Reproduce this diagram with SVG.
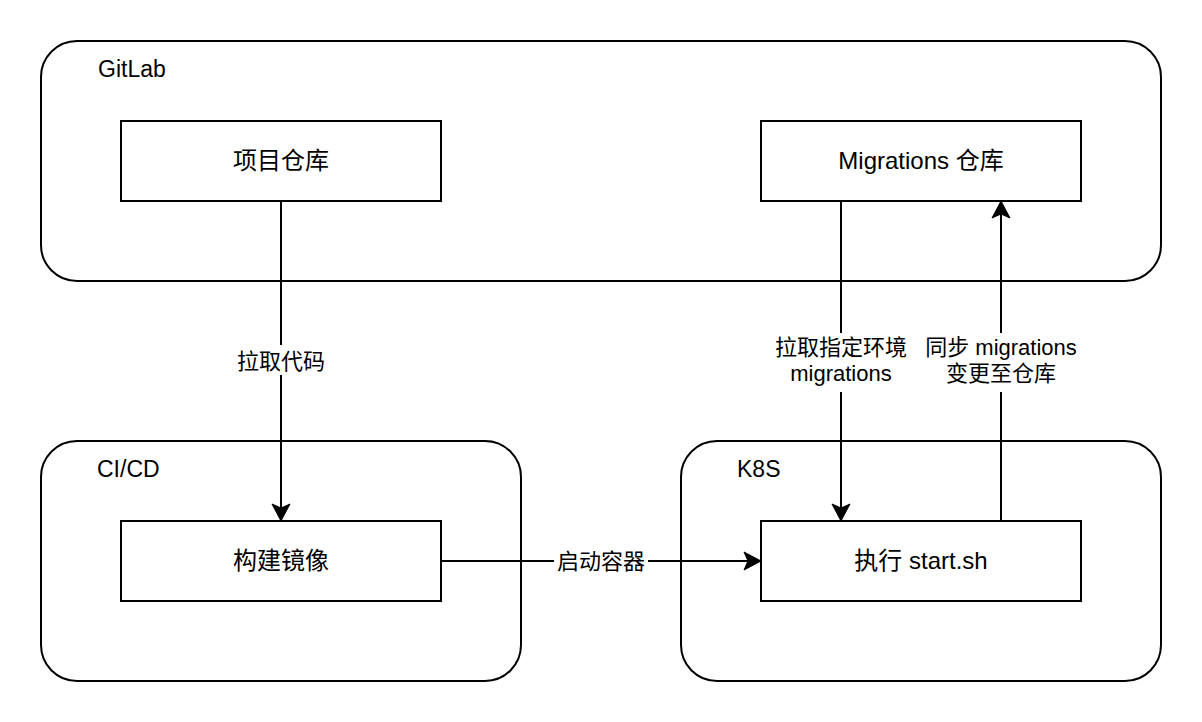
<svg xmlns="http://www.w3.org/2000/svg" width="1202" height="722" viewBox="0 0 1202 722">
<style>
.cont{fill:#fff;stroke:#000;stroke-width:2}
.box{fill:#fff;stroke:#000;stroke-width:2}
.t{font-family:"Liberation Sans","Noto Sans CJK SC",sans-serif;fill:#000}
.vt{font-size:24px;text-anchor:middle}
.ct{font-size:23px}
.lt{font-size:22px;text-anchor:middle}
.edge{fill:none;stroke:#000;stroke-width:2}
.lbg{fill:#fff}
</style>
<defs>
<marker id="arr" markerUnits="userSpaceOnUse" viewBox="-6 -10 20 20" refX="0" refY="0" markerWidth="20" markerHeight="20" orient="auto">
<path d="M12,0 L-5,-9 L-1,0 L-5,9 Z" fill="#000" stroke="#000" stroke-width="1"/>
</marker>
</defs>
<rect width="1202" height="722" fill="#fff"/>
<g id="gitlab">
<rect class="cont" x="41" y="41" width="1120" height="240" rx="36" ry="36"/>
<text class="t ct" x="98" y="77">GitLab</text>
</g>
<g id="cicd">
<rect class="cont" x="41" y="441" width="480" height="240" rx="36" ry="36"/>
<text class="t ct" x="97" y="477">CI/CD</text>
</g>
<g id="k8s">
<rect class="cont" x="681" y="441" width="480" height="240" rx="36" ry="36"/>
<text class="t ct" x="737" y="477">K8S</text>
</g>
<g id="repo">
<rect class="box" x="121" y="121" width="320" height="80"/>
<text class="t vt" x="281" y="169">项目仓库</text>
</g>
<g id="migrepo">
<rect class="box" x="761" y="121" width="320" height="80"/>
<text class="t vt" x="921" y="169">Migrations 仓库</text>
</g>
<g id="build">
<rect class="box" x="121" y="521" width="320" height="80"/>
<text class="t vt" x="281" y="569">构建镜像</text>
</g>
<g id="start">
<rect class="box" x="761" y="521" width="320" height="80"/>
<text class="t vt" x="921" y="569">执行 start.sh</text>
</g>
<g id="connectors">
<path class="edge" d="M281,201 L281,509" marker-end="url(#arr)"/>
<path class="edge" d="M841,201 L841,509" marker-end="url(#arr)"/>
<path class="edge" d="M1001,521 L1001,213" marker-end="url(#arr)"/>
<path class="edge" d="M441,561 L749,561" marker-end="url(#arr)"/>
<rect class="lbg" x="236" y="345" width="90" height="30"/>
<text class="t lt" x="281" y="369">拉取代码</text>
<rect class="lbg" x="773" y="333" width="136" height="59"/>
<text class="t lt" x="841" y="355">拉取指定环境</text>
<text class="t lt" x="841" y="381">migrations</text>
<rect class="lbg" x="923" y="333" width="156" height="59"/>
<text class="t lt" x="1001" y="355">同步 migrations</text>
<text class="t lt" x="1001" y="381">变更至仓库</text>
<rect class="lbg" x="554" y="553" width="94" height="18"/>
<text class="t lt" x="601" y="569">启动容器</text>
</g>
</svg>
